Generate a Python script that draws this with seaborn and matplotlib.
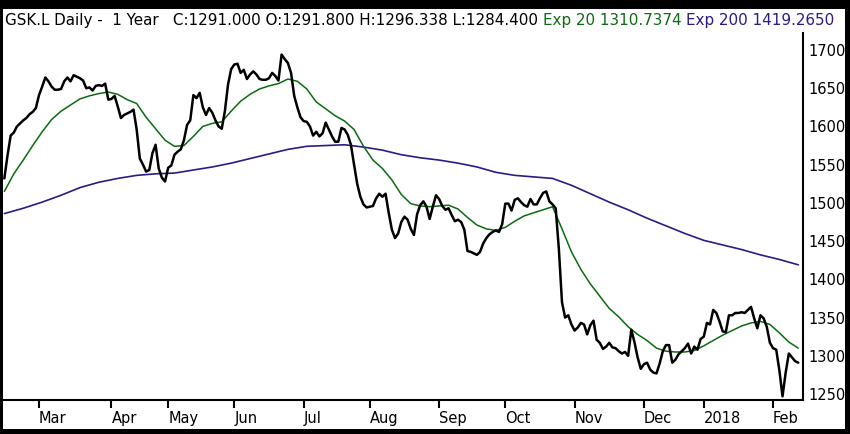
import numpy as np
import pandas as pd
import seaborn as sns
import matplotlib.pyplot as plt
from matplotlib.patches import Rectangle

# London trading sessions, 14 Feb 2017 - 13 Feb 2018
uk_holidays = ['2017-04-14', '2017-04-17', '2017-05-01', '2017-05-29',
               '2017-08-28', '2017-12-25', '2017-12-26', '2018-01-01']

# daily close, one value per session
price = [1532, 1562, 1588, 1592, 1600, 1604, 1608, 1611, 1616, 1619,
         1624, 1641, 1652, 1664, 1659, 1652, 1648, 1648, 1649, 1659,
         1664, 1659, 1667, 1665, 1663, 1660, 1650, 1651, 1647, 1653,
         1654, 1653, 1656, 1635, 1636, 1640, 1626, 1611, 1615, 1617,
         1619, 1622, 1596, 1558, 1550, 1541, 1543, 1565, 1576, 1545,
         1533, 1528, 1546, 1549, 1563, 1567, 1570, 1582, 1602, 1608,
         1641, 1637, 1644, 1625, 1615, 1624, 1618, 1608, 1600, 1597,
         1620, 1655, 1675, 1681, 1682, 1670, 1674, 1662, 1668, 1672,
         1668, 1662, 1661, 1661, 1663, 1670, 1666, 1660, 1694, 1688,
         1683, 1670, 1640, 1625, 1612, 1607, 1606, 1600, 1588, 1593,
         1587, 1591, 1605, 1596, 1587, 1580, 1580, 1598, 1596, 1589,
         1576, 1550, 1525, 1508, 1498, 1494, 1495, 1496, 1506, 1512,
         1508, 1512, 1487, 1465, 1454, 1460, 1475, 1482, 1478, 1466,
         1458, 1485, 1497, 1502, 1495, 1479, 1495, 1510, 1505, 1496,
         1491, 1493, 1484, 1476, 1478, 1475, 1465, 1437, 1436, 1434,
         1432, 1436, 1447, 1454, 1459, 1462, 1464, 1462, 1472, 1499,
         1499, 1490, 1504, 1506, 1501, 1497, 1495, 1505, 1498, 1498,
         1506, 1513, 1515, 1502, 1498, 1493, 1440, 1370, 1350, 1353,
         1341, 1333, 1337, 1343, 1341, 1328, 1340, 1346, 1321, 1317,
         1309, 1312, 1317, 1311, 1310, 1306, 1303, 1305, 1300, 1334,
         1318, 1298, 1283, 1289, 1291, 1282, 1278, 1277, 1290, 1306,
         1314, 1314, 1291, 1295, 1302, 1306, 1310, 1316, 1303, 1312,
         1308, 1322, 1325, 1343, 1341, 1360, 1356, 1345, 1332, 1331,
         1353, 1353, 1356, 1356, 1357, 1356, 1360, 1364, 1349, 1336,
         1353, 1349, 1338, 1317, 1310, 1308, 1281, 1247, 1278, 1303,
         1298, 1293, 1291]

# 20-day exponential average, read every 3rd session
ema20 = [1515, 1538, 1556, 1575, 1593, 1609, 1620, 1628, 1636, 1640,
         1643, 1645, 1642, 1635, 1630, 1612, 1597, 1582, 1574, 1575,
         1587, 1600, 1604, 1606, 1620, 1633, 1642, 1649, 1653, 1656,
         1662, 1659, 1649, 1632, 1623, 1614, 1607, 1596, 1574, 1556,
         1545, 1530, 1511, 1499, 1496, 1495, 1496, 1497, 1492, 1481,
         1471, 1466, 1464, 1468, 1476, 1483, 1487, 1491, 1495, 1466,
         1436, 1413, 1394, 1378, 1362, 1351, 1338, 1328, 1320, 1310,
         1306, 1305, 1305, 1307, 1313, 1320, 1327, 1333, 1339, 1343,
         1345, 1341, 1330, 1318, 1310]

# 200-day exponential average, read every 6th session
ema200 = [1486, 1493, 1501, 1510, 1520, 1527, 1532, 1536, 1538, 1539,
          1543, 1547, 1552, 1558, 1564, 1570, 1574, 1575, 1576, 1573,
          1569, 1563, 1559, 1556, 1552, 1547, 1540, 1536, 1534, 1532,
          1523, 1512, 1501, 1491, 1480, 1470, 1460, 1451, 1445, 1439,
          1432, 1426, 1419]

y_ticks = [1250, 1300, 1350, 1400, 1450, 1500, 1550, 1600, 1650, 1700]

header = [('GSK.L Daily -  1 Year   C:1291.000 O:1291.800 H:1296.338 L:1284.400 ', 'black'),
          ('Exp 20 1310.7374 ', '#0b6b12'),
          ('Exp 200 1419.2650', '#2c1a86')]

sessions = pd.bdate_range('2017-02-14', '2018-02-13')
sessions = sessions[~sessions.isin(pd.to_datetime(uk_holidays))]

price_df = pd.DataFrame({'session': np.arange(len(price)), 'close': price})
ema20_df = pd.DataFrame({'session': np.arange(0, len(price), 3)[:len(ema20)], 'value': ema20})
ema200_df = pd.DataFrame({'session': np.arange(0, len(price), 6)[:len(ema200)], 'value': ema200})

# first session of every month gets a tick (skip the partial first month)
first_of_month = pd.Series(np.arange(len(sessions)), index=sessions)
first_of_month = first_of_month.groupby(sessions.to_period('M')).first().iloc[1:]
month_labels = [str(p.year) if p.month == 1 else p.strftime('%b') for p in first_of_month.index]

sns.set_style('white')
plt.rcParams['font.family'] = ['DejaVu Sans']

fig = plt.figure(figsize=(8.5, 4.34), dpi=100, facecolor='black')
W, H = 850, 434
fig.patches.append(Rectangle((3 / W, 5 / H), (845 - 3) / W, (425 - 5) / H,
                             transform=fig.transFigure, facecolor='white',
                             edgecolor='none', zorder=-10))

ax = fig.add_axes([3 / W, 1 - 400 / H, 800 / W, 367 / H])
ax.set_facecolor('white')

sns.lineplot(data=ema200_df, x='session', y='value', color='#2c1a86', lw=1.2, ax=ax)
sns.lineplot(data=ema20_df, x='session', y='value', color='#0b6b12', lw=1.1, ax=ax)
sns.lineplot(data=price_df, x='session', y='close', color='black', lw=1.8, ax=ax)

ax.set_xlim(-0.43, 253.5)
ax.set_ylim(1242.2, 1722.2)
ax.set_xlabel('')
ax.set_ylabel('')

ax.set_xticks(first_of_month.values)
ax.set_xticklabels(month_labels, ha='left')
ax.set_yticks(y_ticks)
ax.yaxis.tick_right()
ax.tick_params(axis='y', length=0, pad=4, labelsize=10.5, colors='black')
ax.tick_params(axis='x', direction='out', length=6, width=1.5, pad=2,
               labelsize=10.5, colors='black', bottom=True)

for side in ['left', 'top']:
    ax.spines[side].set_visible(False)
for side in ['right', 'bottom']:
    ax.spines[side].set_visible(True)
    ax.spines[side].set_color('black')
    ax.spines[side].set_linewidth(1.5)

# header line: each coloured piece is chained onto the end of the previous one
anchor = fig.text(5 / W, 1 - 21 / H, header[0][0], color=header[0][1],
                  fontsize=10.9, va='center', ha='left', zorder=5)
for txt, col in header[1:]:
    anchor = ax.annotate(txt, xy=(1, 0), xycoords=anchor, va='bottom', ha='left',
                         color=col, fontsize=10.9, annotation_clip=False, zorder=5)

fig.savefig('out.png', dpi=100, facecolor='black')
